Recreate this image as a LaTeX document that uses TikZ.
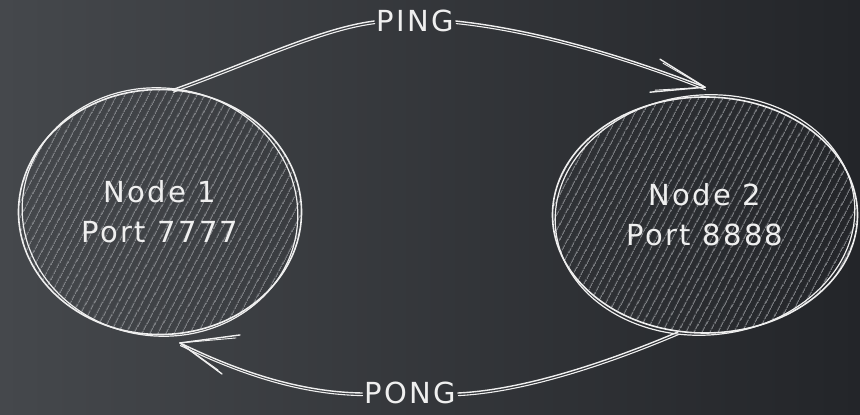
\documentclass[tikz,border=0pt]{standalone}
\usepackage{fontspec}
\setmainfont{DejaVu Sans}[LetterSpace=8]
\usetikzlibrary{shapes.geometric,patterns.meta}
\definecolor{bgL}{HTML}{45484C}
\definecolor{bgR}{HTML}{232529}
\definecolor{ink}{HTML}{EFEFEF}
\definecolor{hatch}{HTML}{797C81}
\begin{document}
\begin{tikzpicture}[x=1pt,y=-1pt,
  bub/.style={ellipse, draw=ink, line width=1.6pt,
    pattern={Lines[angle=62,distance=6.5pt,line width=0.9pt]}, pattern color=hatch,
    inner sep=0pt, text=ink, align=center, font=\fontsize{29}{40}\selectfont},
  sketch/.style={draw=ink, line width=1.2pt},
  lbl/.style={text=ink, font=\fontsize{29}{32}\selectfont, inner sep=2pt},
  wire/.style={draw=ink, line width=1.4pt, line cap=round},
  wire2/.style={draw=ink, line width=1.1pt, line cap=round, transform canvas={shift={(0.5pt,-2.6pt)}}}]
\shade[left color=bgL, right color=bgR] (0,0) rectangle (860,415);
\useasboundingbox (0,0) rectangle (860,415);

% nodes
\node[bub, minimum width=283pt, minimum height=245pt] (n1) at (160,212) {Node 1\\Port 7777};
\node[bub, minimum width=305pt, minimum height=236pt] (n2) at (705,215) {Node 2\\Port 8888};
\draw[sketch, rotate around={-7:(n1.center)}] (n1.center) ellipse [x radius=138, y radius=124];
\draw[sketch, rotate around={5:(n2.center)}] (n2.center) ellipse [x radius=150, y radius=120];

% labels
\node[lbl] (ping) at (415,21) {PING};
\node[lbl] (pong) at (410,393) {PONG};

% arrow tips
\coordinate (t1) at ([yshift=9pt]n2.north);
\coordinate (t2) at ([shift={(20pt,-8pt)}]n1.south);

% PING connector
\draw[wire] (n1.84) .. controls (250,62) and (320,28) .. (ping.west);
\draw[wire2] (n1.84) .. controls (250,62) and (320,28) .. (ping.west);
\draw[wire] (ping.east) .. controls (540,30) and (630,58) .. (t1);
\draw[wire2] (ping.east) .. controls (540,30) and (630,58) .. (t1);
\draw[wire] (t1) -- ++(-45,-28);
\draw[wire] (t1) -- ++(-55,5);
\draw[wire, line width=0.9pt] (t1) -- ++(-42,-24);
\draw[wire, line width=0.9pt] (t1) -- ++(-50,3);

% PONG connector
\draw[wire] (n2.257) .. controls (600,365) and (520,390) .. (pong.east);
\draw[wire2] (n2.257) .. controls (600,365) and (520,390) .. (pong.east);
\draw[wire] (pong.west) .. controls (300,392) and (240,372) .. (t2);
\draw[wire2] (pong.west) .. controls (300,392) and (240,372) .. (t2);
\draw[wire] (t2) -- ++(60,-8);
\draw[wire] (t2) -- ++(42,31);
\draw[wire, line width=0.9pt] (t2) -- ++(56,-5);
\draw[wire, line width=0.9pt] (t2) -- ++(38,27);
\end{tikzpicture}
\end{document}
